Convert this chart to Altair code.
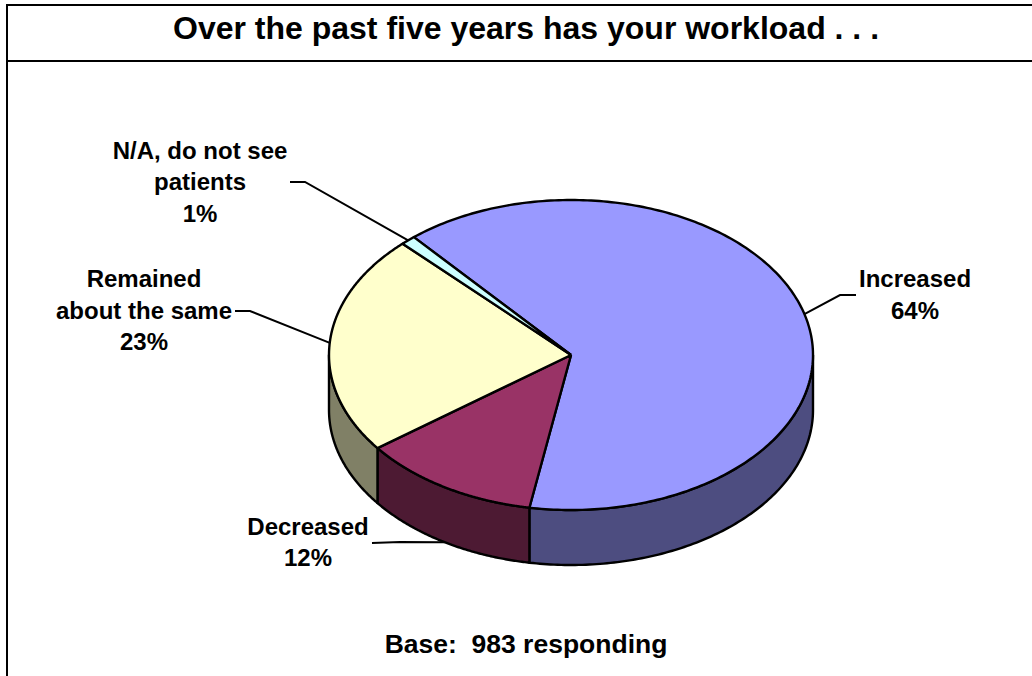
import numpy as np
import pandas as pd
import altair as alt

# Survey results, clockwise from the first slice
categories = ["Increased", "Decreased", "Remained about the same", "N/A, do not see patients"]
shares = [64, 12, 23, 1]
top_colors = ["#9999FF", "#993366", "#FFFFCC", "#CCFFFF"]
wall_colors = ["#4D4D80", "#4D1A33", "#808066", "#668080"]

# Text blocks: one row per line of text
text_lines = ["Increased", "64%", "Decreased", "12%", "Remained", "about the same", "23%",
              "N/A, do not see", "patients", "1%"]
text_x = [915, 915, 308, 308, 144, 144, 144, 200, 200, 200]
text_y = [280, 312, 528, 559, 280, 312, 343, 152, 183, 215]

# Elbow and outer end of each leader line
leader_elbow_x = [840, 400, 250, 305]
leader_elbow_y = [295, 542, 311, 182]
leader_end_x = [856, 372, 235, 290]
leader_end_y = [295, 543, 311, 182]

title_text = "Over the past five years has your workload . . ."
base_text = "Base:\u00a0 983 responding"

# Pie geometry
CX, CY, RX, RY, DEPTH = 571, 355, 242, 155, 55
START_ANGLE = -40.5
W, H = 1032, 676
FONT = "Liberation Sans"

x_scale = alt.Scale(domain=[0, W], range=[0, W], nice=False, zero=False)
y_scale = alt.Scale(domain=[0, H], range=[0, H], nice=False, zero=False)


def rim(deg, drop=0.0):
    rad = np.radians(deg)
    return CX + RX * np.sin(rad), CY - RY * np.cos(rad) + drop


def outline(points, fill, width=2.4):
    frame = pd.DataFrame(points, columns=["x", "y"])
    frame["i"] = range(len(frame))
    return alt.Chart(frame).mark_line(
        fill=fill, stroke="black", strokeWidth=width, strokeJoin="round", clip=False
    ).encode(
        x=alt.X("x:Q", scale=x_scale, axis=None),
        y=alt.Y("y:Q", scale=y_scale, axis=None),
        order="i:Q",
    )


def stroke_path(points, width=2.0):
    frame = pd.DataFrame(points, columns=["x", "y"])
    frame["i"] = range(len(frame))
    return alt.Chart(frame).mark_line(color="black", strokeWidth=width, clip=False).encode(
        x=alt.X("x:Q", scale=x_scale, axis=None),
        y=alt.Y("y:Q", scale=y_scale, axis=None),
        order="i:Q",
    )


def text_layer(frame, size):
    return alt.Chart(frame).mark_text(
        font=FONT, fontWeight="bold", fontSize=size, color="black",
        align="center", baseline="middle"
    ).encode(
        x=alt.X("x:Q", scale=x_scale, axis=None),
        y=alt.Y("y:Q", scale=y_scale, axis=None),
        text="t:N",
    )


# Slice boundaries from the shares
edges = START_ANGLE + np.cumsum([0] + shares) * 3.6

layers = []

# Left and top frame lines and the rule beneath the title
layers.append(stroke_path([(7, H), (7, 5), (W, 5)]))
layers.append(stroke_path([(7, 61), (W, 61)]))

# Leader lines run under the pie, from each slice's middle angle
for k in range(len(shares)):
    mid = (edges[k] + edges[k + 1]) / 2
    drop = DEPTH if k == 1 else 0
    layers.append(stroke_path([
        rim(mid, drop),
        (leader_elbow_x[k], leader_elbow_y[k]),
        (leader_end_x[k], leader_end_y[k]),
    ], 2.0))

# Visible outer walls: the part of each slice on the front half of the rim
for k in range(len(shares)):
    lo, hi = max(edges[k], 90), min(edges[k + 1], 270)
    if hi <= lo:
        continue
    angles = np.linspace(lo, hi, 120)
    upper = [rim(a) for a in angles]
    lower = [rim(a, DEPTH) for a in angles[::-1]]
    layers.append(outline(upper + lower + upper[:1], wall_colors[k]))

# Top faces
for k in range(len(shares)):
    angles = np.linspace(edges[k], edges[k + 1], 240)
    pts = [(CX, CY)] + [rim(a) for a in angles] + [(CX, CY)]
    layers.append(outline(pts, top_colors[k]))

# Data labels
layers.append(text_layer(pd.DataFrame({"t": text_lines, "x": text_x, "y": text_y}), 24))

# Title and base note
layers.append(text_layer(pd.DataFrame({"t": [title_text], "x": [526], "y": [29]}), 32))
layers.append(text_layer(pd.DataFrame({"t": [base_text], "x": [526], "y": [645]}), 26.5))

chart = alt.layer(*layers).properties(
    width=W, height=H, padding=0, background="white",
    autosize=alt.AutoSizeParams(type="none"),
).configure_view(stroke=None)

chart.save("out.html", embed_options={"renderer": "svg", "actions": False})
